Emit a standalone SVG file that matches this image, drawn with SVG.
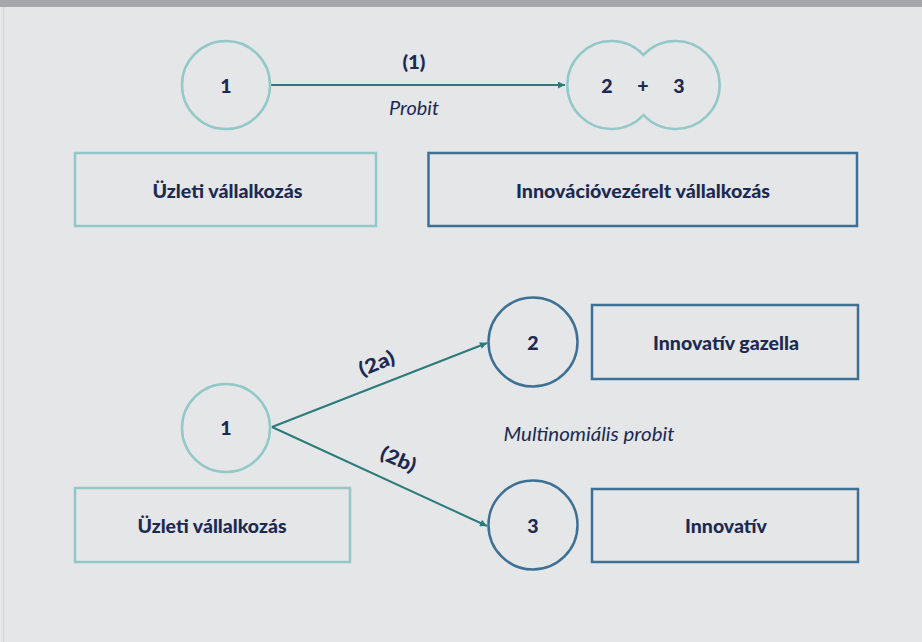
<svg xmlns="http://www.w3.org/2000/svg" width="922" height="642" viewBox="0 0 922 642">
<defs>
<style>
.lt{fill:none;stroke:#93c8c9;stroke-width:2.5}
.dk{fill:none;stroke:#3e7094;stroke-width:2.5}
.con{stroke:#2b7b7a;stroke-width:2;fill:none}
.num{font-family:Lato,"Open Sans",sans-serif;font-weight:900;font-size:19.5px;fill:#1c2a52;text-anchor:middle}
.lbl{font-family:Lato,"Open Sans",sans-serif;font-weight:900;font-size:19.5px;fill:#1c2a52;text-anchor:middle}
.it{font-family:Lato,"Open Sans",sans-serif;font-style:italic;font-size:19px;fill:#1c2a52;text-anchor:middle}
</style>
<marker id="ah" viewBox="0 0 10 10" refX="10" refY="5" markerWidth="8" markerHeight="7" markerUnits="userSpaceOnUse" orient="auto">
<path d="M0,0 L10,5 L0,10 z" fill="#2b7b7a"/>
</marker>
</defs>
<rect x="0" y="0" width="922" height="642" fill="#e5e6e8"/>
<rect x="0" y="0" width="922" height="7" fill="#a6a7aa"/>
<line x1="3.5" y1="7" x2="3.5" y2="642" stroke="#d3d4d7" stroke-width="1"/>

<g id="connectors">
<line class="con" x1="271" y1="85" x2="565" y2="85" marker-end="url(#ah)"/>
<line class="con" x1="272" y1="427" x2="487" y2="343" marker-end="url(#ah)"/>
<line class="con" x1="272" y1="427" x2="487" y2="526" marker-end="url(#ah)"/>
<text class="num" x="414" y="69" textLength="23" lengthAdjust="spacingAndGlyphs">(1)</text>
<text class="it" x="414" y="115" textLength="50" lengthAdjust="spacingAndGlyphs">Probit</text>
<text class="num" transform="translate(377,364) rotate(-22)" x="0" y="6" textLength="37" lengthAdjust="spacingAndGlyphs">(2a)</text>
<text class="num" transform="translate(398,460) rotate(23)" x="0" y="6" textLength="37" lengthAdjust="spacingAndGlyphs">(2b)</text>
<text class="it" x="589" y="441" textLength="171" lengthAdjust="spacingAndGlyphs">Multinomiális probit</text>
</g>

<g id="n1top">
<circle class="lt" cx="226" cy="85" r="44"/>
<text class="num" x="226" y="92.5">1</text>
</g>
<g id="n23">
<path class="lt" d="M643.5,55 A44,44 0 1,1 643.5,115 A44,44 0 1,1 643.5,55 z"/>
<text class="num" x="607" y="92.5">2</text>
<text class="num" x="643" y="92.5">+</text>
<text class="num" x="679" y="92.5">3</text>
</g>
<g id="box-uzleti-top">
<rect class="lt" x="75" y="153" width="301" height="73"/>
<text class="lbl" x="227.5" y="198" textLength="150" lengthAdjust="spacingAndGlyphs">Üzleti vállalkozás</text>
</g>
<g id="box-innov-vez">
<rect class="dk" x="428.5" y="153" width="428.5" height="73"/>
<text class="lbl" x="643" y="198" textLength="254" lengthAdjust="spacingAndGlyphs">Innovációvezérelt vállalkozás</text>
</g>

<g id="n1bottom">
<circle class="lt" cx="226" cy="428" r="44"/>
<text class="num" x="226" y="435">1</text>
</g>
<g id="n2">
<circle class="dk" cx="533" cy="342" r="44.5"/>
<text class="num" x="533" y="350">2</text>
</g>
<g id="n3">
<circle class="dk" cx="533" cy="525" r="44.5"/>
<text class="num" x="533" y="532.5">3</text>
</g>
<g id="box-gazella">
<rect class="dk" x="592" y="305" width="266" height="74"/>
<text class="lbl" x="726" y="350" textLength="146" lengthAdjust="spacingAndGlyphs">Innovatív gazella</text>
</g>
<g id="box-innovativ">
<rect class="dk" x="592" y="489" width="266" height="73"/>
<text class="lbl" x="726" y="532.5" textLength="82" lengthAdjust="spacingAndGlyphs">Innovatív</text>
</g>
<g id="box-uzleti-bottom">
<rect class="lt" x="75" y="488" width="275" height="74"/>
<text class="lbl" x="212" y="532.5" textLength="149" lengthAdjust="spacingAndGlyphs">Üzleti vállalkozás</text>
</g>
</svg>
